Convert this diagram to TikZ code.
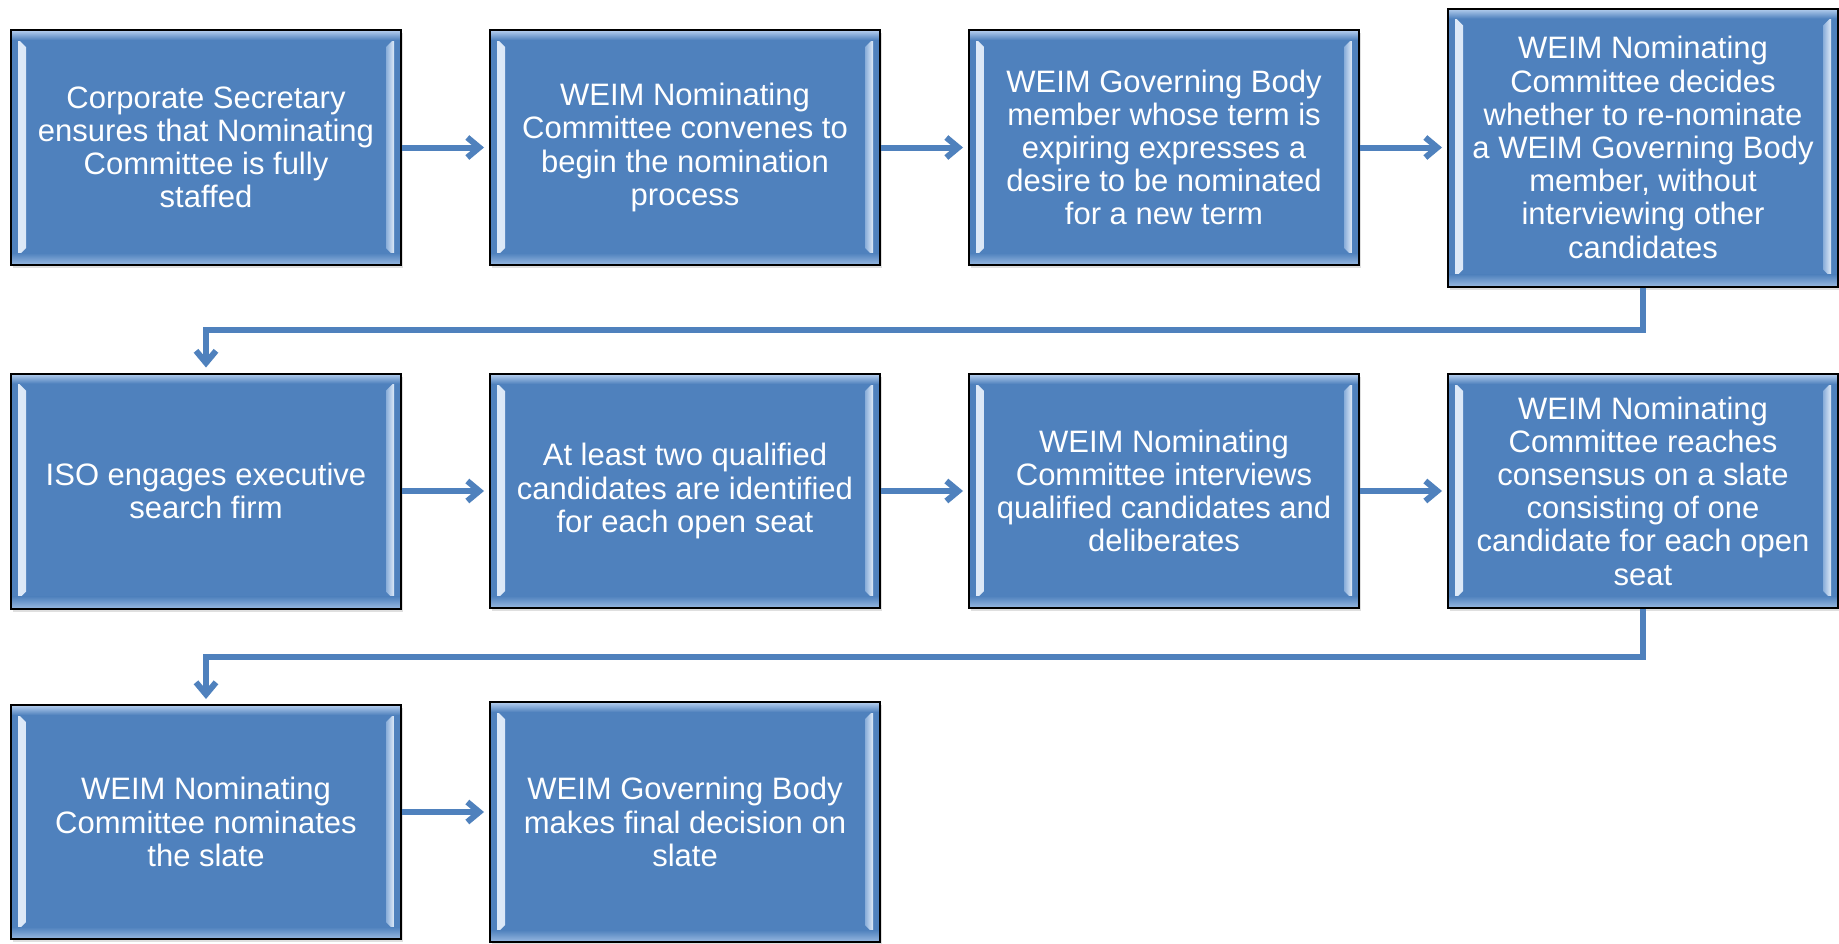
\documentclass[tikz,border=0pt]{standalone}
\usepackage{fontspec}
\setmainfont{Liberation Sans}
\usetikzlibrary{positioning,arrows.meta,shadows}
\definecolor{boxblue}{HTML}{4F81BD}
\definecolor{bevelblue}{HTML}{B8D1F0}

\begin{document}
\begin{tikzpicture}[x=0.5pt,y=-0.5pt,node distance=43.5pt,
  bevel/.style={path picture={
    \shade[left color=white!55!bevelblue,right color=bevelblue!55!boxblue]
      ([xshift=3.5pt,yshift=-4.5pt]path picture bounding box.north west) -- ([xshift=7.5pt,yshift=-8.5pt]path picture bounding box.north west)
      -- ([xshift=7.5pt,yshift=8.5pt]path picture bounding box.south west) -- ([xshift=3.5pt,yshift=4.5pt]path picture bounding box.south west) -- cycle;
    \shade[right color=white!55!bevelblue,left color=bevelblue!55!boxblue]
      ([xshift=-3.5pt,yshift=-4.5pt]path picture bounding box.north east) -- ([xshift=-7.5pt,yshift=-8.5pt]path picture bounding box.north east)
      -- ([xshift=-7.5pt,yshift=8.5pt]path picture bounding box.south east) -- ([xshift=-3.5pt,yshift=4.5pt]path picture bounding box.south east) -- cycle;
    \shade[top color=bevelblue,bottom color=boxblue]
      (path picture bounding box.north west) rectangle ([yshift=-5pt]path picture bounding box.north east);
    \shade[top color=boxblue,bottom color=bevelblue!70!boxblue]
      ([yshift=6pt]path picture bounding box.south west) rectangle (path picture bounding box.south east);
  }},
  every node/.style={shape=rectangle,draw=black,line width=1pt,fill=boxblue,text=white,align=center,
    minimum width=195pt,minimum height=117.5pt,inner sep=0pt,font=\fontsize{15.5}{16.6}\selectfont,
    drop shadow={opacity=0.25,shadow xshift=1pt,shadow yshift=-1.5pt},bevel},
  flow/.style={draw=boxblue,line width=3pt,-{Straight Barb[length=6pt,width=10pt]},shorten >=2.5pt}]

\useasboundingbox (0,0) rectangle (1839,943);

% first row
\node (b1) at (206,147.5) {Corporate Secretary\\ensures that Nominating\\Committee is fully\\staffed};
\node (b2) [right=of b1] {WEIM Nominating\\Committee convenes to\\begin the nomination\\process};
\node (b3) [right=of b2] {WEIM Governing Body\\member whose term is\\expiring expresses a\\desire to be nominated\\for a new term};
\node (b4) [right=of b3, minimum height=139pt] {WEIM Nominating\\Committee decides\\whether to re-nominate\\a WEIM Governing Body\\member, without\\interviewing other\\candidates};

% second row
\node (c1) at (206,491) {ISO engages executive\\search firm};
\node (c2) [right=of c1, minimum height=117pt] {At least two qualified\\candidates are identified\\for each open seat};
\node (c3) [right=of c2, minimum height=117pt] {WEIM Nominating\\Committee interviews\\qualified candidates and\\deliberates};
\node (c4) [right=of c3, minimum height=117pt] {WEIM Nominating\\Committee reaches\\consensus on a slate\\consisting of one\\candidate for each open\\seat};

% third row
\node (d1) at (206,822) [minimum height=117pt] {WEIM Nominating\\Committee nominates\\the slate};
\node (d2) [right=of d1, minimum height=120pt] {WEIM Governing Body\\makes final decision on\\slate};

\draw[flow] (b1) -- (b2);
\draw[flow] (b2) -- (b3);
\draw[flow] (b3) -- (b4);
\draw[flow] (b4.south) -- ++(0,42) -| (c1.north);
\draw[flow] (c1) -- (c2);
\draw[flow] (c2) -- (c3);
\draw[flow] (c3) -- (c4);
\draw[flow] (c4.south) -- ++(0,48) -| (d1.north);
\draw[flow] ([yshift=5pt]d1.east) -- ([yshift=5pt]d2.west);

\end{tikzpicture}
\end{document}
